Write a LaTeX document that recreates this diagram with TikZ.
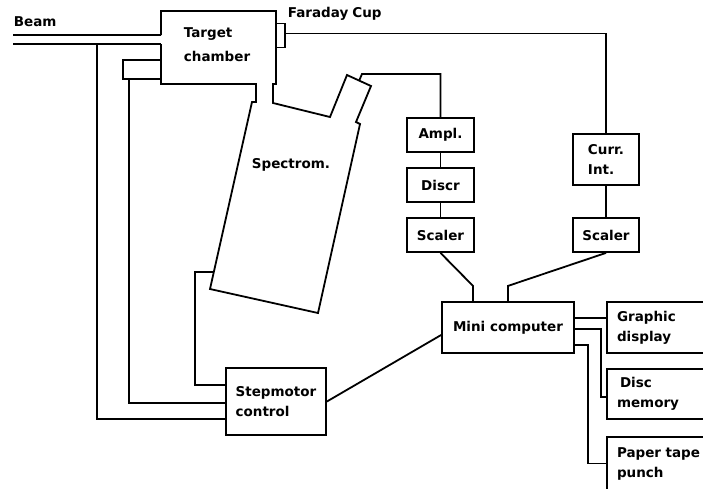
\documentclass[tikz,border=0pt]{standalone}
\usepackage{fontspec}
\setmainfont{DejaVu Sans}
\usetikzlibrary{calc}

\begin{document}
\begin{tikzpicture}[
    x=1pt, y=-1pt,
    font=\fontsize{13.5}{20}\selectfont\bfseries,
    line width=1.8pt, line join=miter,
    box/.style={draw, line width=1.8pt, minimum width=67pt, minimum height=34pt,
                inner sep=0pt, align=left},
    devbox/.style={draw, line width=1.8pt, minimum width=110pt, minimum height=51pt,
                inner xsep=10pt, text width=90pt, align=left},
    lbl/.style={inner sep=0pt, align=left},
    wire/.style={line width=1.8pt}
]
\useasboundingbox (0,0) rectangle (703,488);

%--------
% BEAM, TARGET CHAMBER AND SPECTROMETER (drawn as one outline)
%--------
\node[lbl, anchor=west] (beamlbl) at (13,22) {Beam};
\coordinate (bin1) at (13,35);
\coordinate (bin2) at (13,44);
\coordinate (tcin1) at (161,35);
\coordinate (tcin2) at (161,44);
\draw[wire] (bin1) -- (tcin1);
\draw[wire] (bin2) -- (tcin2);

\draw (tcin1) -- (161,11) -- (276,11) -- (276,84) -- (273,84) -- (273,103)
    -- (330,117) -- (347,75) -- (371,86) -- (356,122) -- (360,124)
    -- (318,313) -- (210,289) -- (252,102) -- (256,102) -- (256,84)
    -- (161,84) -- (tcin2);
\node[lbl, font=\fontsize{13.5}{24}\selectfont\bfseries, anchor=west]
    (tclbl) at (183,45) {Target\\chamber};
\node[lbl] (splbl) at (291,165) {Spectrom.};

% side port of the chamber and Faraday cup
\node[draw, minimum width=38pt, minimum height=19pt, inner sep=0pt] (lport) at (142,69.5) {};
\node[draw, minimum width=9pt, minimum height=24pt, inner sep=0pt] (fcup) at (280.5,35.5) {};
\node[lbl, anchor=west] (fclbl) at (287,14) {Faraday\hspace{4pt}Cup};

% spectrometer connection points
\coordinate (det) at (359,81);
\coordinate (spc) at (213,272);
\coordinate (btap) at (97,44);

%--------
% COUNTING CHAIN
%--------
\node[box] (ampl)  at (440.5,135) {Ampl.};
\node[box] (discr) at (440.5,185) {Discr};
\node[box] (scal1) at (440.5,235) {Scaler};

\node[box, minimum width=66pt, minimum height=51pt] (curr) at (606,159.5) {Curr.\\Int.};
\node[box, minimum width=66pt] (scal2) at (606,235) {Scaler};

\draw[wire] (det) -- (362,74) -| (ampl.north);
\draw[wire] (ampl) -- (discr);
\draw[wire] (discr) -- (scal1);
\draw[wire] ([yshift=2pt]fcup.east) -| (curr.north);
\draw[wire] (curr) -- (scal2);

%--------
% COMPUTER AND PERIPHERALS
%--------
\node[box, minimum width=132pt, minimum height=51pt] (mini) at (508,327.5) {Mini computer};
\node[box, minimum width=100pt, minimum height=67pt] (step) at (276,401.5) {Stepmotor\\control};

\node[devbox] (graph) at (662,327.5) {Graphic\\display};
\node[devbox, minimum height=50pt] (disc) at (662,394) {\hspace{3pt}Disc\\memory};
\node[devbox, minimum height=53pt] (tape) at (662,463.5) {Paper tape\\punch};

\draw[wire] (scal1.south) -- ++(32.5,33) -- ([xshift=-35pt]mini.north);
\draw[wire] (scal2.south) -- ++(-98,33) -- (mini.north);
\draw[wire] (step.east) -- ([yshift=-7.5pt]mini.west);

\draw[wire] ([yshift=9.5pt]mini.east) -- ([yshift=9.5pt]graph.west);
\draw[wire] ([yshift=-1.5pt]mini.east) -- ++(26,0) |- ([yshift=-3pt]disc.west);
\draw[wire] ([yshift=-17.5pt]mini.east) -- ++(13,0) |- (tape.west);

%--------
% STEPMOTOR LINES
%--------
\draw[wire] (spc) -- ++(-18,0) |- ([yshift=16.5pt]step.west);
\draw[wire] ([xshift=-13pt]lport.south) |- ([yshift=-1.5pt]step.west);
\draw[wire] (btap) |- ([yshift=-17.5pt]step.west);

\end{tikzpicture}
\end{document}
